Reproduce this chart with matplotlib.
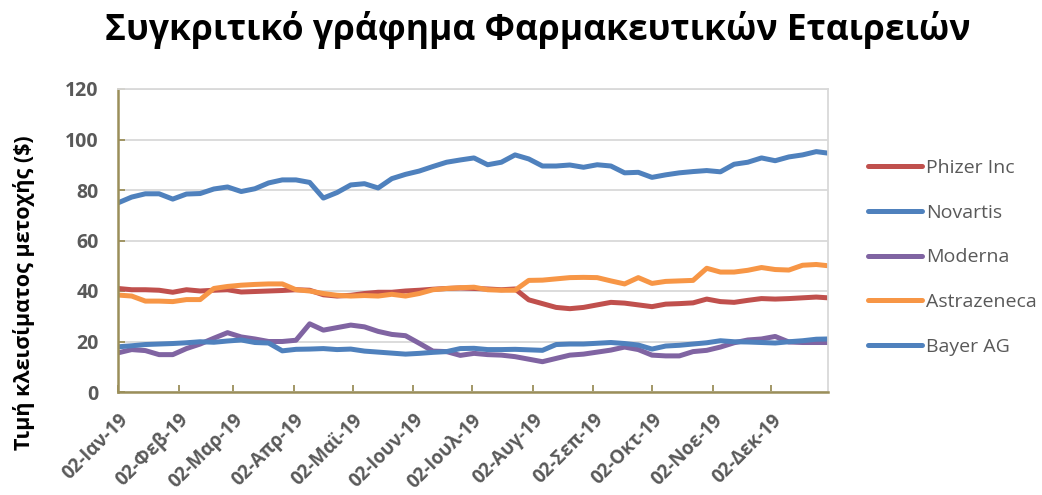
"""Comparative closing-price chart of five pharmaceutical companies, 2019."""
import numpy as np
import pandas as pd
import matplotlib
matplotlib.use("Agg")
import matplotlib.pyplot as plt
import matplotlib.transforms as mtransforms

# weekly samples (every 7 days from 02-Jan-2019) plus the last trading day
dates = list(pd.date_range("2019-01-02", "2019-12-25", freq="7D")) + [pd.Timestamp("2019-12-31")]

phizer = [41.0, 40.5, 40.5, 40.3, 39.5, 40.5, 40.0, 40.3, 40.5, 39.6,
          39.8, 40.0, 40.2, 40.5, 40.3, 38.5, 38.0, 38.3, 39.0, 39.5,
          39.5, 40.0, 40.3, 40.7, 41.0, 41.2, 41.0, 40.8, 40.5, 40.8,
          36.5, 35.0, 33.5, 33.0, 33.5, 34.5, 35.5, 35.2, 34.5, 33.8,
          34.8, 35.0, 35.3, 36.8, 35.8, 35.5, 36.3, 37.0, 36.8, 37.0,
          37.3, 37.6, 37.3]
novartis = [74.9, 77.2, 78.5, 78.5, 76.4, 78.4, 78.6, 80.4, 81.2, 79.4,
            80.5, 82.8, 84.0, 84.0, 83.0, 76.8, 79.0, 82.0, 82.5, 80.8,
            84.5, 86.2, 87.5, 89.3, 91.0, 91.9, 92.7, 90.0, 91.0, 93.9,
            92.3, 89.5, 89.5, 89.9, 89.0, 90.0, 89.5, 86.8, 87.0, 85.0,
            86.0, 86.8, 87.3, 87.7, 87.2, 90.2, 91.0, 92.7, 91.6, 93.1,
            93.9, 95.2, 94.6]
moderna = [15.5, 16.8, 16.4, 14.8, 14.8, 17.2, 19.0, 21.3, 23.5, 21.8,
           21.0, 20.0, 20.0, 20.5, 27.0, 24.5, 25.5, 26.5, 25.8, 24.0,
           22.8, 22.3, 19.3, 16.2, 16.0, 14.5, 15.3, 14.8, 14.6, 14.0,
           13.0, 12.0, 13.3, 14.6, 15.0, 15.8, 16.6, 17.8, 16.8, 14.6,
           14.3, 14.3, 16.0, 16.5, 17.8, 19.5, 20.6, 21.0, 22.0, 19.8,
           19.6, 19.6, 19.6]
astrazeneca = [38.4, 38.0, 36.0, 36.0, 35.8, 36.6, 36.6, 41.0, 41.8, 42.3,
               42.6, 42.8, 42.8, 40.5, 40.0, 39.0, 38.3, 38.0, 38.2, 38.0,
               38.7, 38.0, 39.0, 40.5, 41.0, 41.3, 41.5, 40.5, 40.3, 40.3,
               44.2, 44.3, 44.8, 45.3, 45.4, 45.3, 44.0, 42.8, 45.3, 43.0,
               43.8, 44.0, 44.2, 49.0, 47.5, 47.5, 48.2, 49.3, 48.5, 48.3,
               50.2, 50.5, 50.0]
bayer = [17.9, 18.3, 18.8, 19.0, 19.2, 19.5, 19.9, 19.7, 20.2, 20.6,
         19.6, 19.4, 16.3, 16.9, 17.0, 17.2, 16.8, 17.0, 16.2, 15.8,
         15.4, 15.0, 15.3, 15.7, 16.0, 17.2, 17.3, 16.8, 16.8, 16.9,
         16.7, 16.5, 18.8, 19.0, 19.0, 19.3, 19.6, 19.2, 18.6, 17.0,
         18.2, 18.5, 19.0, 19.5, 20.3, 19.9, 19.8, 19.6, 19.4, 19.9,
         20.3, 20.9, 21.0]

series = [("Phizer Inc", phizer, "#C0504D"),
          ("Novartis", novartis, "#4F81BD"),
          ("Moderna", moderna, "#8064A2"),
          ("Astrazeneca", astrazeneca, "#F79646"),
          ("Bayer AG", bayer, "#4F81BD")]

month_labels = ["02-Ιαν-19", "02-Φεβ-19", "02-Μαρ-19", "02-Απρ-19", "02-Μαϊ-19",
                "02-Ιουν-19", "02-Ιουλ-19", "02-Αυγ-19", "02-Σεπ-19", "02-Οκτ-19",
                "02-Νοε-19", "02-Δεκ-19"]
month_ticks = [pd.Timestamp(2019, m, 2) for m in range(1, 13)]

plt.rcParams["font.family"] = ["Open Sans", "DejaVu Sans"]
OLIVE = "#9B8F5A"
GREY = "#595959"

fig = plt.figure(figsize=(10.42, 4.95), dpi=100)
ax = fig.add_axes([118 / 1042, 1 - 392 / 495, 710 / 1042, 303 / 495])

for name, vals, color in series:
    ax.plot(dates, vals, color=color, linewidth=3.6, label=name,
            solid_capstyle="round", solid_joinstyle="round")

ax.set_xlim(pd.Timestamp("2019-01-02"), pd.Timestamp("2019-12-31"))
ax.set_ylim(0, 120)
ax.set_yticks(np.arange(0, 121, 20))
ax.set_xticks(month_ticks)
ax.set_xticklabels(month_labels, rotation=45, ha="right", rotation_mode="anchor",
                   fontsize=13.5, fontweight="bold", color=GREY)
shift = mtransforms.ScaledTranslation(2 / 72, 0, fig.dpi_scale_trans)
for lbl in ax.get_xticklabels():
    lbl.set_transform(lbl.get_transform() + shift)
for lbl in ax.get_yticklabels():
    lbl.set_fontsize(14)
    lbl.set_fontweight("bold")
    lbl.set_color(GREY)

ax.grid(axis="y", color="#D9D9D9", linewidth=1.3)
ax.set_axisbelow(True)
for side in ("left", "bottom"):
    ax.spines[side].set_color(OLIVE)
    ax.spines[side].set_linewidth(1.8)
for side in ("top", "right"):
    ax.spines[side].set_color("#D9D9D9")
    ax.spines[side].set_linewidth(1.3)
ax.tick_params(axis="both", direction="in", length=5, width=1.3, color=OLIVE)
ax.tick_params(axis="x", pad=13)
ax.tick_params(axis="y", pad=14)

fig.text(24 / 1042, 1 - 293 / 495, "Τιμή κλεισίματος μετοχής ($)", rotation=90,
         ha="center", va="center", fontsize=15.5, fontweight="bold", color="black")

fig.text(0.516, 0.939, "Συγκριτικό γράφημα Φαρμακευτικών Εταιρειών",
         ha="center", va="center", fontsize=25.5, fontweight="bold", color="black")

fig.legend(loc="upper left", bbox_to_anchor=(858 / 1042, 1 - 149 / 495),
           frameon=False, fontsize=14, handlelength=2.8, handletextpad=0.2,
           labelspacing=1.38, borderpad=0, labelcolor=GREY)

fig.savefig("out.png", dpi=100)
